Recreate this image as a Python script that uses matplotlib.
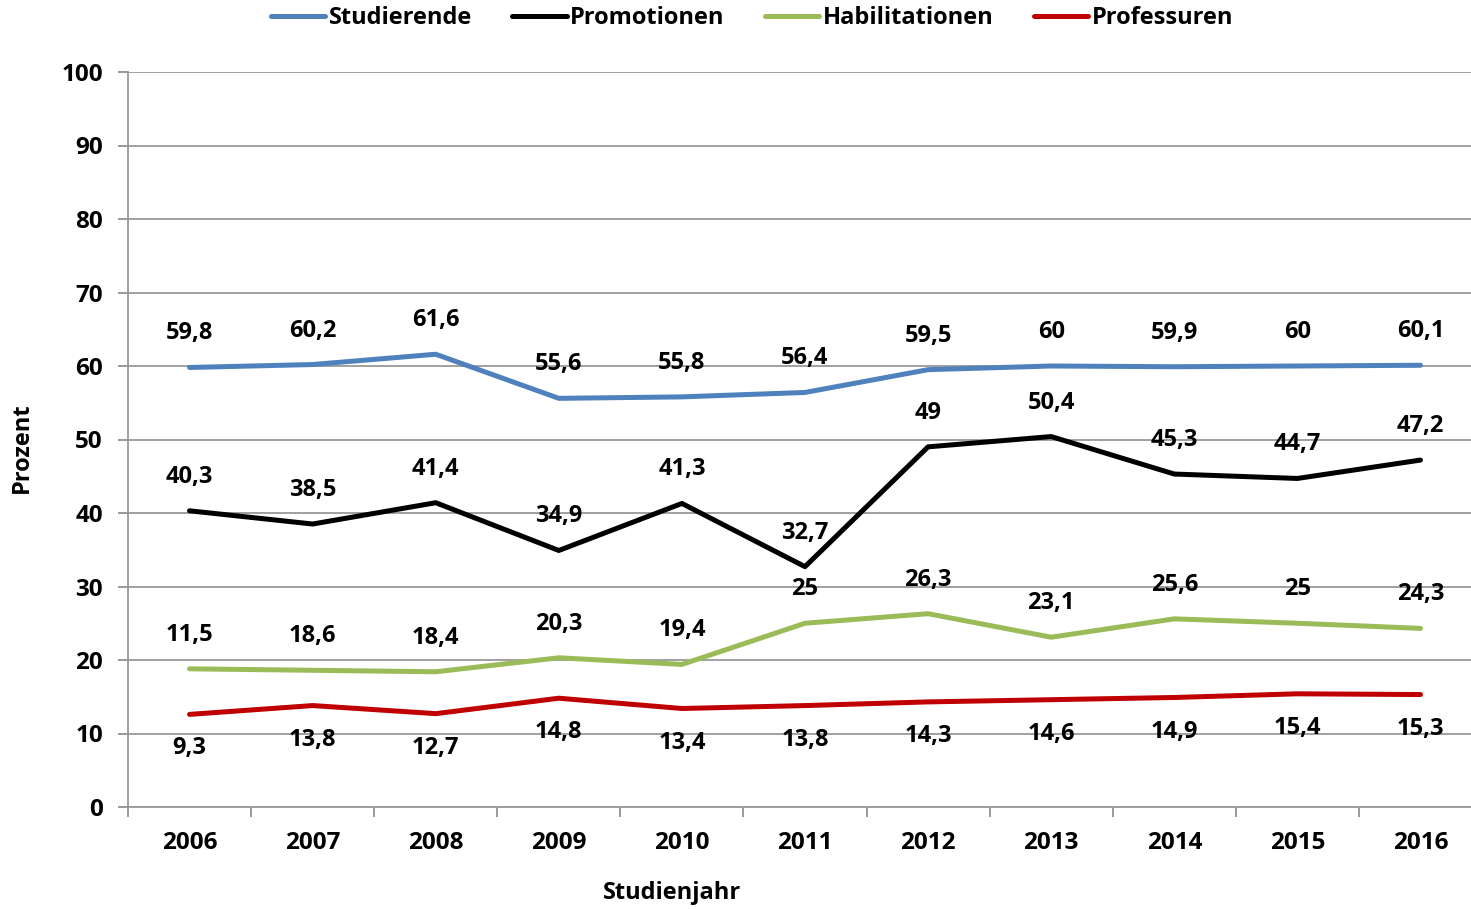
import matplotlib.pyplot as plt

plt.rcParams['font.family'] = ['Open Sans', 'DejaVu Sans']
plt.rcParams['font.weight'] = 'bold'

years = ["2006", "2007", "2008", "2009", "2010", "2011", "2012", "2013", "2014", "2015", "2016"]

# plotted values
studierende = [59.8, 60.2, 61.6, 55.6, 55.8, 56.4, 59.5, 60.0, 59.9, 60.0, 60.1]
promotionen = [40.3, 38.5, 41.4, 34.9, 41.3, 32.7, 49.0, 50.4, 45.3, 44.7, 47.2]
habilitationen = [18.8, 18.6, 18.4, 20.3, 19.4, 25.0, 26.3, 23.1, 25.6, 25.0, 24.3]
professuren = [12.6, 13.8, 12.7, 14.8, 13.4, 13.8, 14.3, 14.6, 14.9, 15.4, 15.3]

# data labels as printed
lab_stud = ["59,8", "60,2", "61,6", "55,6", "55,8", "56,4", "59,5", "60", "59,9", "60", "60,1"]
lab_prom = ["40,3", "38,5", "41,4", "34,9", "41,3", "32,7", "49", "50,4", "45,3", "44,7", "47,2"]
lab_habil = ["11,5", "18,6", "18,4", "20,3", "19,4", "25", "26,3", "23,1", "25,6", "25", "24,3"]
lab_prof = ["9,3", "13,8", "12,7", "14,8", "13,4", "13,8", "14,3", "14,6", "14,9", "15,4", "15,3"]

series = [
    ("Studierende", studierende, lab_stud, "#4F81BD", 1),
    ("Promotionen", promotionen, lab_prom, "#000000", 1),
    ("Habilitationen", habilitationen, lab_habil, "#9BBB59", 1),
    ("Professuren", professuren, lab_prof, "#C00000", -1),
]

W, H = 1471, 909
fig = plt.figure(figsize=(W / 100, H / 100), dpi=100)
ax = fig.add_axes([128 / W, (H - 807) / H, (1482 - 128) / W, 735 / H])

x = list(range(len(years)))
handles = []
for name, vals, labs, col, side in series:
    h, = ax.plot(x, vals, color=col, lw=3.6, solid_capstyle='round', solid_joinstyle='round', label=name)
    handles.append(h)
    for xi, v, t in zip(x, vals, labs):
        ax.annotate(t, (xi, v), xytext=(0, 24.5 * side), textcoords='offset points',
                    ha='center', va='center', fontsize=17, fontweight='bold', color='black')

ax.set_xlim(-0.5, len(years) - 0.5)
ax.set_ylim(0, 100)
ax.set_yticks(range(0, 101, 10))
ax.set_xticks(x)
ax.set_xticklabels(years)
ax.set_xticks([i + 0.5 for i in range(-1, len(years))], minor=True)
ax.tick_params(axis='x', which='major', length=0, pad=17, labelsize=17.5)
ax.tick_params(axis='x', which='minor', length=7, color='#888888', width=1.2)
ax.tick_params(axis='y', length=7, color='#888888', width=1.2, labelsize=17.5, pad=11)
ax.grid(axis='y', color='#999999', lw=1.3)
ax.set_axisbelow(True)
for s in ['top', 'right']:
    ax.spines[s].set_visible(False)
for s in ['left', 'bottom']:
    ax.spines[s].set_color('#999999')
    ax.spines[s].set_linewidth(1.3)

fig.text(22 / W, 1 - 448 / H, "Prozent", rotation=90, ha='center', va='center', fontsize=17, fontweight='bold')
fig.text(672 / W, 1 - 893 / H, "Studienjahr", ha='center', va='center', fontsize=17, fontweight='bold')

fig.legend(handles=handles, loc='center', bbox_to_anchor=(752 / W, 1 - 18 / H), ncol=4, frameon=False,
           handlelength=2.3, handletextpad=0.15, columnspacing=1.7,
           prop={'weight': 'bold', 'size': 17})

fig.savefig("out.png", dpi=100)
